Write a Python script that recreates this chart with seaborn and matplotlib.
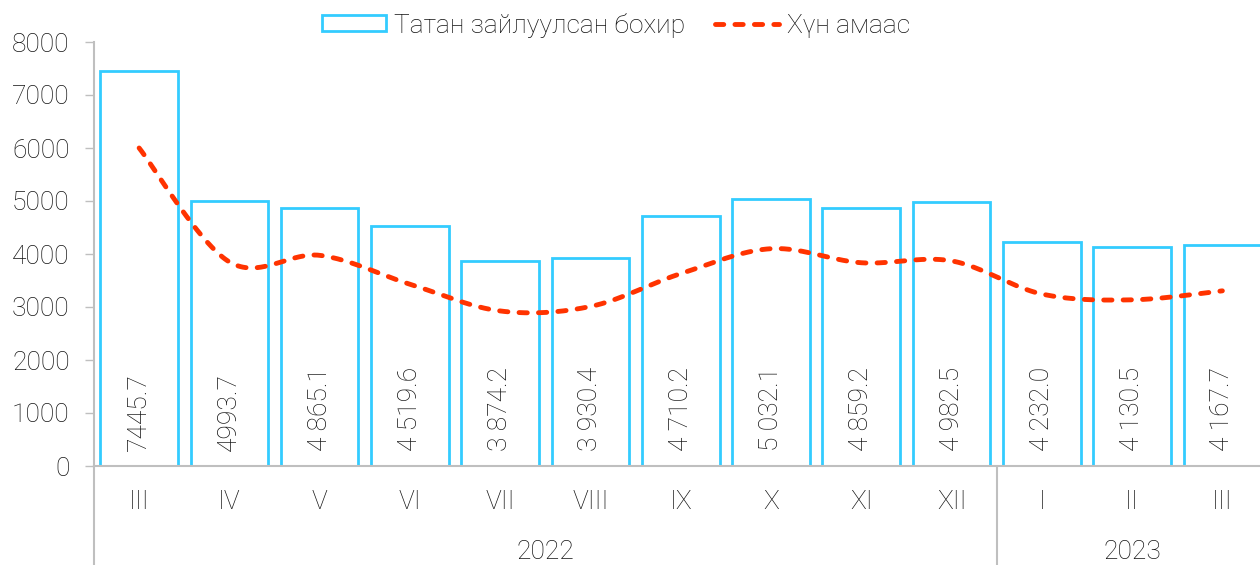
import numpy as np
import pandas as pd
import matplotlib
matplotlib.use("Agg")
import matplotlib.pyplot as plt
import matplotlib.transforms as mtransforms
from matplotlib.lines import Line2D
from matplotlib.patches import Patch
import seaborn as sns

# ---- data -------------------------------------------------------------
months = ["III", "IV", "V", "VI", "VII", "VIII", "IX", "X", "XI", "XII", "I", "II", "III"]
years = ["2022"] * 10 + ["2023"] * 3
wastewater = [7445.7, 4993.7, 4865.1, 4519.6, 3874.2, 3930.4, 4710.2,
              5032.1, 4859.2, 4982.5, 4232.0, 4130.5, 4167.7]
per_capita = [6000, 3850, 3975, 3430, 2925, 3010, 3630,
              4100, 3835, 3870, 3245, 3135, 3305]
thousands_sep = [False, False] + [True] * 11
y_ticks = [0, 1000, 2000, 3000, 4000, 5000, 6000, 7000, 8000]
legend_labels = ["Татан зайлуулсан бохир", "Хүн амаас"]

# ---- style ------------------------------------------------------------
sns.set_theme(style="white")
plt.rcParams["font.family"] = ["Roboto", "DejaVu Sans"]
plt.rcParams["font.weight"] = "light"
TEXT = "#141414"
GRID = "#BFBFBF"
CYAN = "#33CCFF"
RED = "#FF3300"
FS = 19

W, H = 1260, 565
fig = plt.figure(figsize=(W / 100, H / 100), dpi=100)
ax = fig.add_axes([94 / W, (H - 466) / H, 1173.5 / W, 424 / H])

df = pd.DataFrame({
    "period": [f"{y}-{m}" for y, m in zip(years, months)],
    "value": wastewater,
})
sns.barplot(data=df, x="period", y="value", order=list(df["period"]),
            color="white", edgecolor=CYAN, linewidth=2.0, width=0.86,
            saturation=1, ax=ax)


def smooth_curve(xs, ys, n=40):
    """Cubic Bezier smoothing through every point (Catmull-Rom style)."""
    pts = np.column_stack([xs, ys]).astype(float)
    out = []
    for i in range(len(pts) - 1):
        p0 = pts[i - 1] if i > 0 else pts[i]
        p1, p2 = pts[i], pts[i + 1]
        p3 = pts[i + 2] if i + 2 < len(pts) else pts[i + 1]
        c1 = p1 + (p2 - p0) / 6.0
        c2 = p2 - (p3 - p1) / 6.0
        t = np.linspace(0, 1, n, endpoint=(i == len(pts) - 2))[:, None]
        seg = ((1 - t) ** 3) * p1 + 3 * ((1 - t) ** 2) * t * c1 \
            + 3 * (1 - t) * t ** 2 * c2 + t ** 3 * p2
        out.append(seg)
    seg = np.vstack(out)
    return seg[:, 0], seg[:, 1]


dash = (1.7, 2.3)
cx, cy = smooth_curve(np.arange(len(per_capita)), per_capita)
ax.plot(cx, cy, color=RED, lw=3.5, dashes=dash, dash_capstyle="round",
        solid_capstyle="round", zorder=5)

# value labels inside the bars
for i, (v, sep) in enumerate(zip(wastewater, thousands_sep)):
    txt = f"{v:,.1f}".replace(",", " ") if sep else f"{v:.1f}"
    ax.annotate(txt, (i, 0), xytext=(0, 10.5), textcoords="offset points",
                rotation=90, ha="center", va="bottom", fontsize=FS,
                color=TEXT, fontweight="light", zorder=6)

# axes
ax.set_xlim(-0.5, len(months) - 0.5)
ax.set_ylim(0, 8000)
ax.set_yticks(y_ticks)
ax.set_yticklabels([str(t) for t in y_ticks], fontsize=FS, color=TEXT)
ax.set_xticks(range(len(months)))
ax.set_xticklabels(months, fontsize=FS, color=TEXT)
ax.set_xlabel("")
ax.set_ylabel("")
ax.tick_params(axis="y", length=6.5, width=1.0, color=GRID, pad=11, left=True)
ax.tick_params(axis="x", length=0, pad=17)
for s in ["top", "right"]:
    ax.spines[s].set_visible(False)
for s in ["left", "bottom"]:
    ax.spines[s].set_color(GRID)
    ax.spines[s].set_linewidth(1.5)
ax.spines["bottom"].set_zorder(7)

# group separators below the category axis
trans = mtransforms.blended_transform_factory(ax.transData, ax.transAxes)
for xpos in [-0.5, 9.5]:
    ax.add_line(Line2D([xpos, xpos], [0, -0.3], transform=trans, color=GRID,
                       lw=1.5, clip_on=False))

# year labels centred under their months
yrs = pd.Series(years)
for yr in yrs.unique():
    idx = np.where(yrs == yr)[0]
    ax.text((idx[0] + idx[-1]) / 2, -0.204, yr, transform=trans, ha="center",
            va="center", fontsize=FS, color=TEXT, fontweight="light")

# legend
handles = [
    Patch(facecolor="white", edgecolor=CYAN, linewidth=2.0),
    Line2D([0], [0], color=RED, lw=3.5, dashes=dash, dash_capstyle="round"),
]
fig.legend(handles, legend_labels, loc="center", bbox_to_anchor=(616 / W, 1 - 25 / H),
           ncol=2, frameon=False, fontsize=FS, handlelength=2.45, handleheight=0.55,
           handletextpad=0.3, columnspacing=1.1, labelcolor=TEXT)

fig.savefig("out.png", dpi=100)
